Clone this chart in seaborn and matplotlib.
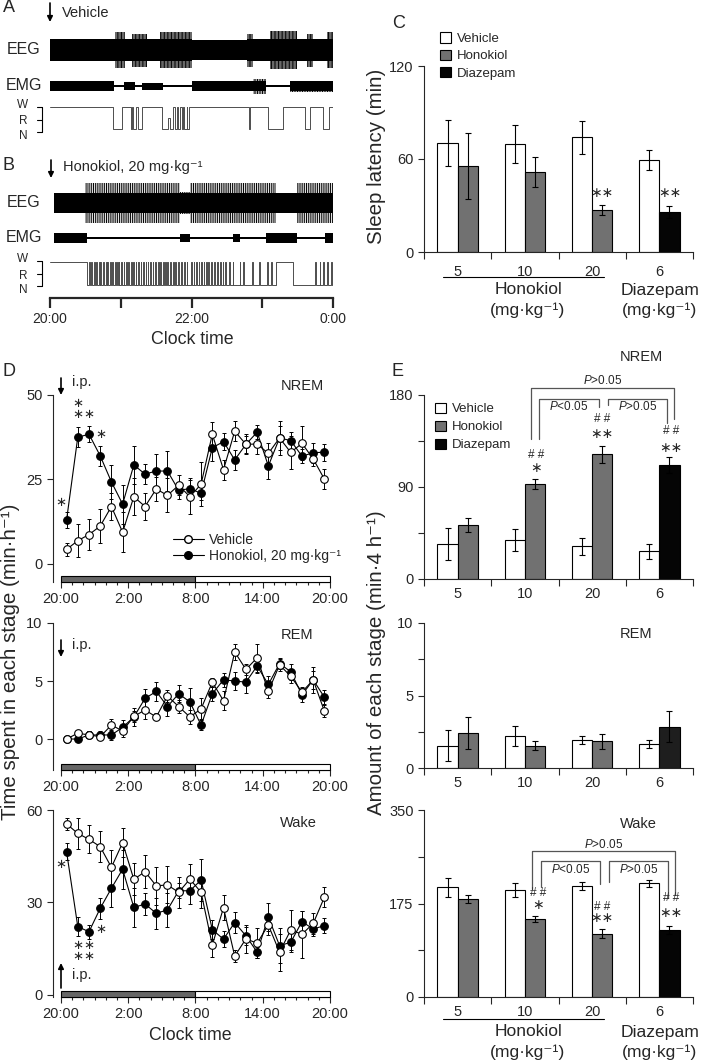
import numpy as np
import pandas as pd
import matplotlib
matplotlib.use("Agg")
import matplotlib.pyplot as plt
import seaborn as sns
from matplotlib.patches import Rectangle, Patch, FancyArrowPatch
from matplotlib.lines import Line2D

# ========== DATOS ==========
# A / B: envolventes de EEG/EMG (horas desde las 20:00, amplitud relativa)
eeg_a_t = [0, 0.92, 1.06, 1.16, 1.37, 1.55, 2.0, 2.78, 2.87, 3.11, 3.49, 3.63, 3.72, 3.91, 4.0]
eeg_a_amp = [1.0, 1.6, 1.0, 1.5, 1.0, 1.6, 0.9, 1.5, 1.0, 1.7, 1.0, 1.5, 1.0, 1.6]
emg_a_t = [0, 0.90, 1.04, 1.20, 1.30, 1.60, 2.0, 2.87, 3.06, 3.39, 4.0]
emg_a_amp = [1.0, 0.15, 0.8, 0.15, 0.7, 0.15, 1.0, 1.5, 0.2, 1.1]
hyp_a_t = [0.00, 0.89, 1.02, 1.14, 1.16, 1.18, 1.21, 1.24, 1.30, 1.58, 1.67, 1.69, 1.74, 1.76,
           1.79, 1.81, 1.84, 1.86, 1.88, 1.90, 1.93, 1.94, 1.96, 2.81, 2.83, 3.08, 3.30, 3.60,
           3.67, 3.86, 3.95]
hyp_a_s = ['W', 'N', 'W', 'N', 'W', 'N', 'W', 'N', 'W', 'N', 'R', 'N', 'W', 'N',
           'W', 'N', 'W', 'N', 'W', 'N', 'W', 'N', 'W', 'N', 'W', 'N', 'W', 'N',
           'W', 'N', 'W']

eeg_b_t = [0.05, 0.49, 1.84, 1.98, 3.20, 3.49, 4.0]
eeg_b_amp = [1.0, 2.0, 1.1, 2.0, 1.0, 2.0]
emg_b_t = [0.05, 0.52, 1.84, 1.98, 2.59, 2.69, 3.06, 3.49, 3.89, 4.0]
emg_b_amp = [1.0, 0.2, 0.8, 0.2, 0.8, 0.2, 1.0, 0.2, 1.0]
hyp_b_bout_t = [0.0, 0.52, 3.20, 3.44]
hyp_b_bout_s = ['W', 'N', 'W', 'N']
hyp_b_arousals = [0.55, 0.58, 0.62, 0.65, 0.69, 0.71, 0.75, 0.79, 0.81, 0.85, 0.88, 0.92, 0.95,
                  0.97, 1.01, 1.04, 1.08, 1.10, 1.14, 1.18, 1.21, 1.24, 1.28, 1.32, 1.35, 1.38,
                  1.42, 1.45, 1.49, 1.53, 1.56, 1.60, 1.63, 1.66, 1.70, 1.74, 1.77, 1.81, 1.85,
                  1.89, 1.93, 1.99, 2.03, 2.06, 2.10, 2.13, 2.17, 2.21, 2.24, 2.28, 2.32, 2.36,
                  2.40, 2.44, 2.48, 2.53, 2.58, 2.68, 2.73, 2.86, 2.95, 3.07, 3.12, 3.75, 3.81,
                  3.86, 3.92, 3.97]

# C: latencia de sueño (min)
doses = ['5', '10', '20', '6']
c_veh = [70.3, 69.7, 74.0, 59.5]
c_veh_err = [15.0, 12.5, 10.5, 6.5]
c_drug = [55.5, 51.6, 27.0, 26.0]
c_drug_err = [21.0, 9.5, 3.3, 4.0]

# D: curso temporal (min/h), 24 h desde las 20:00
hour_mid = np.arange(0.5, 24, 1.0)
clock_ticks = [0, 6, 12, 18, 24]
clock_labels = ['20:00', '2:00', '8:00', '14:00', '20:00']
nrem_veh = [4.3, 6.9, 8.7, 11.2, 17.0, 9.4, 19.9, 17.0, 22.2, 20.3, 23.3, 19.9,
            23.6, 38.4, 27.9, 39.3, 35.4, 35.5, 32.7, 37.3, 33.0, 35.7, 31.1, 25.1]
nrem_veh_err = [2.0, 4.8, 4.5, 5.0, 4.0, 6.0, 5.5, 4.0, 3.5, 5.0, 3.0, 5.0,
                6.5, 3.5, 3.0, 3.0, 3.0, 3.0, 3.0, 3.5, 5.0, 5.0, 2.0, 3.0]
nrem_hon = [13.0, 37.5, 38.4, 32.0, 24.3, 17.7, 29.3, 26.6, 27.5, 27.5, 21.8, 22.3,
            20.9, 34.4, 36.2, 30.8, 35.4, 39.0, 29.0, 37.3, 36.5, 31.9, 32.9, 33.1]
nrem_hon_err = [2.5, 3.0, 2.3, 3.0, 5.0, 5.8, 5.6, 3.0, 5.0, 6.0, 2.5, 3.0,
                2.0, 4.0, 2.5, 3.0, 2.5, 2.0, 4.0, 5.0, 2.5, 2.0, 3.0, 2.5]
rem_veh = [0.0, 0.5, 0.35, 0.2, 1.2, 0.7, 1.95, 2.5, 1.9, 3.7, 2.8, 1.9,
           2.6, 4.9, 3.3, 7.5, 6.0, 7.0, 4.1, 6.4, 5.4, 4.05, 5.1, 2.4]
rem_veh_err = [0.05, 0.2, 0.3, 0.2, 0.5, 0.5, 0.5, 0.8, 0.3, 0.5, 0.6, 0.6,
               0.9, 0.4, 0.8, 0.7, 0.5, 1.2, 0.6, 0.5, 0.6, 0.4, 0.8, 0.5]
rem_hon = [0.0, 0.0, 0.35, 0.35, 0.35, 1.0, 1.9, 3.5, 4.1, 2.8, 3.9, 3.2,
           1.2, 3.9, 5.1, 5.0, 4.9, 6.3, 4.7, 6.5, 5.8, 3.8, 5.1, 3.6]
rem_hon_err = [0.05, 0.1, 0.3, 0.3, 0.4, 0.6, 0.8, 0.8, 0.8, 0.8, 0.75, 1.2,
               0.4, 0.6, 0.6, 0.8, 0.9, 0.6, 0.7, 0.5, 0.7, 0.6, 1.1, 0.6]
wake_veh = [55.5, 52.4, 50.5, 48.1, 41.4, 49.4, 37.5, 40.0, 35.4, 35.7, 33.3, 37.6,
            33.3, 16.2, 28.3, 12.6, 18.2, 16.8, 22.7, 13.9, 21.1, 19.7, 23.2, 31.7]
wake_veh_err = [2.0, 5.0, 4.6, 5.0, 5.6, 4.6, 5.2, 5.4, 6.2, 6.0, 5.0, 5.0,
                5.0, 3.8, 4.1, 2.0, 4.5, 4.8, 3.2, 6.0, 6.5, 7.7, 3.5, 3.2]
wake_hon = [46.5, 22.2, 20.5, 28.1, 34.6, 40.8, 28.4, 29.5, 26.5, 27.6, 33.8, 33.8,
            37.3, 21.2, 18.1, 23.5, 19.2, 13.9, 25.3, 16.0, 17.1, 23.8, 21.4, 22.5]
wake_hon_err = [2.7, 3.0, 2.2, 3.5, 6.0, 6.3, 6.2, 3.5, 5.0, 5.4, 2.4, 4.4,
                6.8, 3.1, 2.5, 3.5, 3.0, 1.8, 4.4, 5.6, 3.0, 3.6, 2.4, 2.4]

# E: cantidad de cada estado en 4 h
e_nrem_veh = [34.2, 38.4, 31.9, 27.0]
e_nrem_veh_err = [15.6, 10.8, 8.0, 7.0]
e_nrem_drug = [52.7, 93.1, 122.0, 111.7]
e_nrem_drug_err = [7.0, 5.0, 8.5, 8.0]
e_rem_veh = [1.54, 2.23, 1.93, 1.66]
e_rem_veh_err = [1.06, 0.7, 0.3, 0.27]
e_rem_drug = [2.41, 1.54, 1.84, 2.85]
e_rem_drug_err = [1.1, 0.3, 0.5, 1.05]
e_wake_veh = [205.0, 200.0, 207.5, 212.5]
e_wake_veh_err = [17.0, 12.5, 8.0, 6.5]
e_wake_drug = [183.0, 146.0, 118.8, 125.0]
e_wake_drug_err = [7.5, 6.5, 8.0, 7.5]

# ========== ESTILO ==========
sns.set_theme(style="ticks")
plt.rcParams['font.family'] = ['Liberation Sans', 'DejaVu Sans']
plt.rcParams['mathtext.fontset'] = 'custom'
plt.rcParams['mathtext.rm'] = 'Liberation Sans'
plt.rcParams['mathtext.it'] = 'Liberation Sans:italic'
plt.rcParams['axes.linewidth'] = 0.8
plt.rcParams['xtick.major.width'] = 0.8
plt.rcParams['ytick.major.width'] = 0.8
plt.rcParams['xtick.minor.width'] = 0.8
plt.rcParams['ytick.minor.width'] = 0.8
plt.rcParams['hatch.linewidth'] = 0.7

W, H = 702, 1061
fig = plt.figure(figsize=(W / 100, H / 100), dpi=100)
fig.patch.set_facecolor('white')

HONO = '#717171'
TICK_FS = 10.5
LAB_FS = 14.8
STAR = '∗'


def fx(px):
    return px / W


def fy(py):
    return 1 - py / H


def box(l, t, r, b):
    return fig.add_axes([fx(l), fy(b), (r - l) / W, (b - t) / H])


def ftxt(x, y, s, size=10, ha='center', va='center', **kw):
    fig.text(fx(x), fy(y), s, fontsize=size, ha=ha, va=va, **kw)


def arrow(x, y0, y1, lw=1.2):
    fig.add_artist(FancyArrowPatch((fx(x), fy(y0)), (fx(x), fy(y1)), transform=fig.transFigure,
                                   arrowstyle='-|>', mutation_scale=8, lw=lw, color='black',
                                   shrinkA=0, shrinkB=0))


def fline(x0, y0, x1, y1, lw=0.8, color='black'):
    fig.add_artist(Line2D([fx(x0), fx(x1)], [fy(y0), fy(y1)], transform=fig.transFigure,
                          lw=lw, color=color))


# ========== A / B: trazos ==========
ax_tr = box(50, 0, 333, 290)
ax_tr.set_xlim(0, 4)
ax_tr.set_ylim(290, 0)
ax_tr.axis('off')


def trace(t, amp, center, scale, hatch):
    y = np.array(list(amp) + [amp[-1]])
    core = np.minimum(y, 1.0)
    # picos: rayado vertical; nucleo: negro solido
    ax_tr.fill_between(t, center - scale * y, center + scale * y, step='post',
                       facecolor='white', edgecolor='black', hatch=hatch, lw=0)
    ax_tr.fill_between(t, center - scale * core, center + scale * core, step='post',
                       color='black', lw=0)


def hypno(t, s, lv):
    xs = list(t) + [4.0]
    ys = [lv[k] for k in s] + [lv[s[-1]]]
    ax_tr.step(xs, ys, where='post', color='#4d4d4d', lw=0.7)


trace(eeg_a_t, eeg_a_amp, 50, 11, '|' * 12)
trace(emg_a_t, emg_a_amp, 86, 5, '|' * 10)
hypno(hyp_a_t, hyp_a_s, {'W': 107, 'R': 118, 'N': 129})

trace(eeg_b_t, eeg_b_amp, 203, 10, '|' * 9)
trace(emg_b_t, emg_b_amp, 238, 5, '|' * 9)
ev = list(zip(hyp_b_bout_t, hyp_b_bout_s)) + [(a, 'W') for a in hyp_b_arousals] + \
     [(a + 0.012, 'N') for a in hyp_b_arousals]
ev.sort()
hypno([e[0] for e in ev], [e[1] for e in ev], {'W': 262, 'R': 273, 'N': 285})

for yc, lbl in [(50, 'EEG'), (85, 'EMG'), (203, 'EEG'), (238, 'EMG')]:
    ftxt(24, yc, lbl, size=11.5)
for top, levels in [(107, [105, 121, 136]), (261, [259, 276, 290])]:
    for yy, k in zip(levels, ['W', 'R', 'N']):
        ftxt(23, yy, k, size=8.5)
    fline(42, top, 42, top + 25)
    for dy in [0, 12.5, 25]:
        fline(37, top + dy, 42, top + dy)

ftxt(9, 8, 'A', size=13)
ftxt(9, 165, 'B', size=13)
arrow(50, 3, 22)
ftxt(62, 13, 'Vehicle', size=10.5, ha='left')
arrow(51, 160, 178)
ftxt(63, 167, 'Honokiol, 20 mg·kg⁻¹', size=10.5, ha='left')

ax_time = box(50, 280, 333, 298)
ax_time.set_facecolor('none')
ax_time.set_xlim(0, 4)
ax_time.set_yticks([])
for sp in ['left', 'top', 'right']:
    ax_time.spines[sp].set_visible(False)
ax_time.spines['bottom'].set_linewidth(1.6)
ax_time.set_xticks([0, 1, 2, 3, 4])
ax_time.set_xticklabels(['20:00', '', '22:00', '', '0:00'], fontsize=10)
ax_time.tick_params(axis='x', length=7, width=1.6, direction='out', pad=3)
ftxt(192, 340, 'Clock time', size=12.8)

# ========== C ==========
def bar_panel(top, bottom, ymax, yticks, yminor, veh, veh_err, drug, drug_err, diaz_color, pad):
    ax = box(424, top, 693, bottom)
    df = pd.DataFrame({'dosis': doses * 2, 'valor': list(veh) + list(drug),
                       'grupo': ['Vehicle'] * 4 + ['Drug'] * 4})
    sns.barplot(data=df, x='dosis', y='valor', hue='grupo', order=doses,
                hue_order=['Vehicle', 'Drug'], palette={'Vehicle': 'white', 'Drug': HONO},
                width=0.6, edgecolor='black', linewidth=0.8, errorbar=None, saturation=1,
                legend=False, ax=ax)
    bars = sorted(ax.patches, key=lambda p: p.get_x())
    bars[-1].set_facecolor(diaz_color)
    xs = [p.get_x() + p.get_width() / 2 for p in bars]
    hs = [p.get_height() for p in bars]
    errs = [e for pair in zip(veh_err, drug_err) for e in pair]
    ax.errorbar(xs, hs, yerr=errs, fmt='none', ecolor='black', elinewidth=0.8,
                capsize=2.5, capthick=0.8, zorder=4)
    ax.set_xlim(-0.5, 3.5)
    ax.set_ylim(0, ymax)
    ax.set_yticks(yticks)
    ax.set_yticklabels([f'{v:g}' for v in yticks], fontsize=TICK_FS)
    if yminor:
        ax.set_yticks(yminor, minor=True)
    ax.set_xticks([-0.5, 0.5, 1.5, 2.5, 3.5], minor=True)
    ax.set_xticklabels(doses, fontsize=TICK_FS)
    ax.tick_params(axis='x', which='major', length=0, pad=pad)
    ax.tick_params(axis='x', which='minor', length=5, direction='out')
    ax.tick_params(axis='y', which='both', length=4, direction='out')
    ax.set_xlabel('')
    ax.set_ylabel('')
    sns.despine(ax=ax)
    return ax


ax_c = bar_panel(66, 252, 120, [0, 60, 120], None, c_veh, c_veh_err, c_drug, c_drug_err,
                 '#050505', 9)
ax_c.text(2.15, 38, STAR + STAR, fontsize=10, ha='center', va='center')
ax_c.text(3.15, 38, STAR + STAR, fontsize=10, ha='center', va='center')
ftxt(399, 24, 'C', size=13)
ftxt(376, 156, 'Sleep latency (min)', size=LAB_FS, rotation=90)

leg_handles = [Patch(facecolor='white', edgecolor='black', lw=0.8),
               Patch(facecolor=HONO, edgecolor='black', lw=0.8),
               Patch(facecolor='#050505', edgecolor='black', lw=0.8)]
leg_labels = ['Vehicle', 'Honokiol', 'Diazepam']
ax_c.legend(leg_handles, leg_labels, loc='center left', bbox_to_anchor=(fx(440), fy(56)),
            bbox_transform=fig.transFigure, frameon=False, fontsize=9.5, handlelength=0.8,
            handleheight=0.8, handletextpad=0.5, labelspacing=0.35, borderpad=0, borderaxespad=0)


def dose_footer(y_line):
    fline(443, y_line, 604, y_line, lw=0.8)
    ftxt(528, y_line + 13, 'Honokiol', size=12.6)
    ftxt(528, y_line + 33, '(mg·kg⁻¹)', size=12.6)
    ftxt(660, y_line + 13, 'Diazepam', size=12.6)
    ftxt(660, y_line + 33, '(mg·kg⁻¹)', size=12.6)


dose_footer(277)

# ========== D ==========
def line_panel(top, bottom, ymin, ymax, yticks, veh, veh_err, hon, hon_err):
    ax = box(53, top, 330, bottom)
    df = pd.DataFrame({'hora': np.r_[hour_mid, hour_mid], 'valor': list(veh) + list(hon),
                       'grupo': ['Vehicle'] * 24 + ['Honokiol'] * 24})
    ax.errorbar(hour_mid, hon, yerr=hon_err, fmt='none', ecolor='black', elinewidth=0.7,
                capsize=1.6, capthick=0.7, zorder=2)
    ax.errorbar(hour_mid, veh, yerr=veh_err, fmt='none', ecolor='black', elinewidth=0.7,
                capsize=1.6, capthick=0.7, zorder=2)
    sns.lineplot(data=df[df.grupo == 'Honokiol'], x='hora', y='valor', color='black', lw=0.8,
                 marker='o', markersize=5.5, markerfacecolor='black', markeredgecolor='black',
                 markeredgewidth=0.8, errorbar=None, ax=ax, zorder=3)
    sns.lineplot(data=df[df.grupo == 'Vehicle'], x='hora', y='valor', color='black', lw=0.8,
                 marker='o', markersize=5.5, markerfacecolor='white', markeredgecolor='black',
                 markeredgewidth=0.8, errorbar=None, ax=ax, zorder=4)
    ax.set_xlim(-0.71, 24)
    ax.set_ylim(ymin, ymax)
    hbar = 6 * (ymax - ymin) / (bottom - top)
    ax.add_patch(Rectangle((0, ymin), 12, hbar, facecolor='#666666', edgecolor='black',
                           lw=0.8, clip_on=False, zorder=5))
    ax.add_patch(Rectangle((12, ymin), 12, hbar, facecolor='white', edgecolor='black',
                           lw=0.8, clip_on=False, zorder=5))
    ax.set_yticks(yticks)
    ax.set_yticklabels([str(v) for v in yticks], fontsize=TICK_FS)
    ax.set_xticks(clock_ticks)
    ax.set_xticklabels(clock_labels, fontsize=TICK_FS)
    ax.set_xticks(np.arange(0, 25, 1), minor=True)
    ax.tick_params(axis='x', which='major', length=4, direction='out', pad=3)
    ax.tick_params(axis='x', which='minor', length=2.5, direction='out')
    ax.tick_params(axis='y', length=4, direction='out')
    ax.set_xlabel('')
    ax.set_ylabel('')
    sns.despine(ax=ax)
    ax.spines['bottom'].set_bounds(0, 24)
    ax.spines['left'].set_bounds(ymin, ymax)
    return ax


ax_dn = line_panel(395, 582, -5.33, 50, [0, 25, 50], nrem_veh, nrem_veh_err, nrem_hon, nrem_hon_err)
ax_dr = line_panel(623, 770, -2.67, 10, [0, 5, 10], rem_veh, rem_veh_err, rem_hon, rem_hon_err)
ax_dw = line_panel(810, 997, -0.65, 60, [0, 30, 60], wake_veh, wake_veh_err, wake_hon, wake_hon_err)

# asteriscos de significancia sobre los puntos de Honokiol
for ax, items in [
        (ax_dn, [(0.0, 18.0, STAR), (1.5, 45.7, STAR + '\n' + STAR), (2.5, 44.1, STAR),
                 (3.6, 38.2, STAR)]),
        (ax_dw, [(0.0, 42.2, STAR), (1.5, 14.2, STAR + '\n' + STAR),
                 (2.5, 14.2, STAR + '\n' + STAR), (3.6, 21.1, STAR)])]:
    for x, y, s in items:
        ax.text(x, y, s, fontsize=9.5, ha='center', va='center', linespacing=0.85, clip_on=False)

ftxt(9, 372, 'D', size=13)
arrow(61, 378, 395)
ftxt(72, 382, 'i.p.', size=10.5, ha='left')
arrow(61, 640, 657)
ftxt(72, 645, 'i.p.', size=10.5, ha='left')
arrow(61, 988, 963)
ftxt(72, 975, 'i.p.', size=10.5, ha='left')
ftxt(302, 386, 'NREM', size=10.5)
ftxt(297, 635, 'REM', size=10.5)
ftxt(298, 823, 'Wake', size=10.5)
ftxt(190, 1036, 'Clock time', size=12.8)
ftxt(11, 662, 'Time spent in each stage (min·h⁻¹)', size=LAB_FS, rotation=90)

d_handles = [Line2D([0], [0], color='black', lw=0.8, marker='o', markersize=5.5,
                    markerfacecolor='white', markeredgecolor='black'),
             Line2D([0], [0], color='black', lw=0.8, marker='o', markersize=5.5,
                    markerfacecolor='black', markeredgecolor='black')]
ax_dn.legend(d_handles, ['Vehicle', 'Honokiol, 20 mg·kg⁻¹'], loc='center left',
             bbox_to_anchor=(fx(173), fy(548)), bbox_transform=fig.transFigure, frameon=False,
             fontsize=10, handlelength=2.2, handletextpad=0.4, labelspacing=0.1,
             borderpad=0, borderaxespad=0)

# ========== E ==========
ax_en = bar_panel(395, 579, 180, [0, 90, 180], [45, 135], e_nrem_veh, e_nrem_veh_err,
                  e_nrem_drug, e_nrem_drug_err, '#050505', 6)
ax_er = bar_panel(623, 768, 10, [0, 5, 10], [2.5, 7.5], e_rem_veh, e_rem_veh_err,
                  e_rem_drug, e_rem_drug_err, '#1e1e1e', 6)
ax_ew = bar_panel(810, 997, 350, [0, 175, 350], [87.5, 262.5], e_wake_veh, e_wake_veh_err,
                  e_wake_drug, e_wake_drug_err, '#050505', 6)

ax_en.legend(leg_handles, leg_labels, loc='center left', bbox_to_anchor=(fx(435), fy(427)),
             bbox_transform=fig.transFigure, frameon=False, fontsize=9.5, handlelength=0.8,
             handleheight=0.8, handletextpad=0.5, labelspacing=0.4, borderpad=0, borderaxespad=0)


def marks(ax, items):
    for x, y, s, size in items:
        ax.text(x, y, s, fontsize=size, ha='center', va='center', clip_on=False)


def bracket(ax, x0, x1, top, y0, y1, label, ty):
    ax.plot([x0, x0, x1, x1], [y0, top, top, y1], color='#555555', lw=0.9, clip_on=False)
    ax.text((x0 + x1) / 2, ty, label, fontsize=8.5, ha='center', va='center', clip_on=False)


S2 = STAR + STAR
marks(ax_en, [(1.16, 121, '# #', 8.5), (1.16, 109, STAR, 10),
              (2.15, 156.5, '# #', 8.5), (2.15, 142, S2, 10),
              (3.17, 145, '# #', 8.5), (3.17, 128, S2, 10)])
bracket(ax_en, 1.09, 3.22, 187, 137, 157, '$\\it{P}$>0.05', 194)
bracket(ax_en, 1.21, 2.10, 176, 137, 168, '$\\it{P}$<0.05', 169)
bracket(ax_en, 2.24, 3.11, 176, 170, 153, '$\\it{P}$>0.05', 169)

marks(ax_ew, [(1.19, 195, '# #', 8.5), (1.19, 173, STAR, 10),
              (2.15, 168.5, '# #', 8.5), (2.15, 147, S2, 10),
              (3.17, 185, '# #', 8.5), (3.17, 157, S2, 10)])
bracket(ax_ew, 1.11, 3.23, 273, 202, 190, '$\\it{P}$>0.05', 286)
bracket(ax_ew, 1.24, 2.12, 255, 205, 212, '$\\it{P}$<0.05', 238)
bracket(ax_ew, 2.25, 3.13, 255, 215, 185, '$\\it{P}$>0.05', 238)

ftxt(398, 372, 'E', size=13)
ftxt(641, 357, 'NREM', size=10.5)
ftxt(636, 634, 'REM', size=10.5)
ftxt(638, 824, 'Wake', size=10.5)
ftxt(376, 663, 'Amount of each stage (min·4 h⁻¹)', size=LAB_FS, rotation=90)
dose_footer(1019)

fig.savefig('out.png', dpi=100, facecolor='white')
plt.close(fig)
